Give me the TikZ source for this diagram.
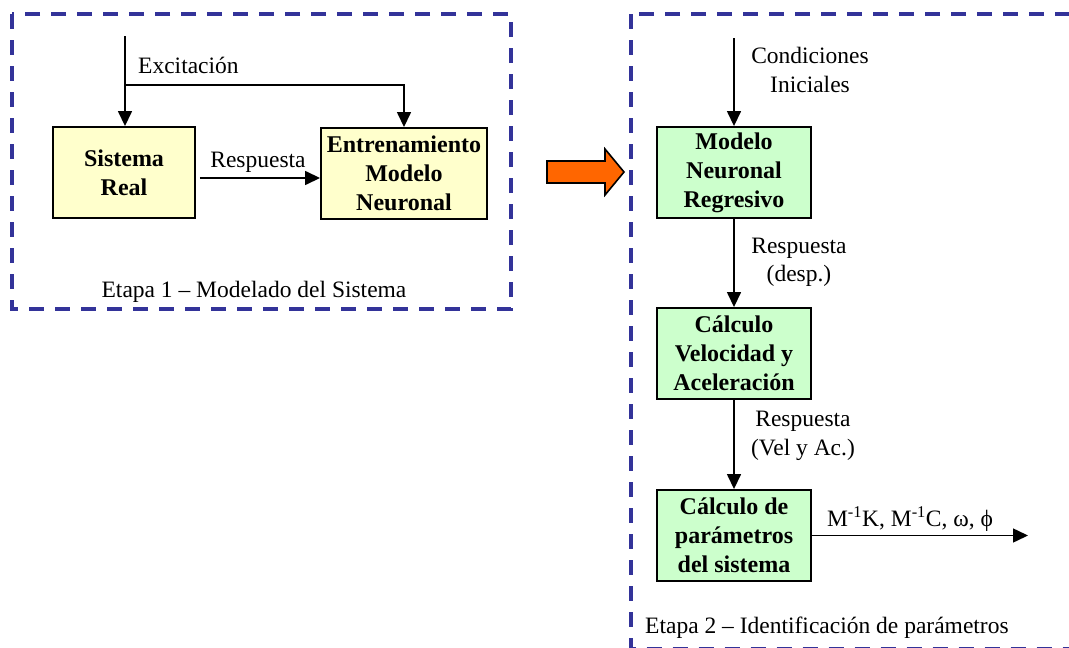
\documentclass[tikz,border=0pt]{standalone}
\usepackage{fontspec}
\setmainfont{Liberation Serif}
\usetikzlibrary{arrows.meta}
\definecolor{dashblue}{HTML}{333399}
\definecolor{yel}{HTML}{FFFFCC}
\definecolor{grn}{HTML}{CCFFCC}
\definecolor{orng}{HTML}{FF6600}
\begin{document}
\begin{tikzpicture}[x=1pt,y=-1pt,
  lbl/.style={font=\fontsize{23.5}{28.5}\selectfont,align=center,inner sep=0pt},
  blk/.style={draw=black,line width=1.9pt,font=\fontsize{24}{29}\selectfont\bfseries,align=center,inner sep=0pt,minimum height=91pt},
  yblk/.style={blk,fill=yel},
  gblk/.style={blk,fill=grn,minimum width=154pt},
  arr/.style={line width=1.5pt,-{Triangle[length=15pt,width=14pt]}},
  frame/.style={draw=dashblue,line width=3.4pt,dash pattern=on 15pt off 11pt},
  bigarrow/.style={draw=black,line width=1.6pt,fill=orng,line join=miter}]
\useasboundingbox (0,0) rectangle (1069,648);
\clip (0,0) rectangle (1069,648);
% frames
\draw[frame] (12,14) rectangle (511,309);
\draw[frame] (631,14) rectangle (1100,648.5);
% stage 1
\node[yblk,minimum width=142pt] (sis) at (124,172.5) {Sistema\\Real};
\node[yblk,minimum width=166pt] (ent) at (404,173.5) {Entrenamiento\\Modelo\\Neuronal};
\coordinate (in1) at (125,36);
\coordinate (br) at (125,85);
\draw[arr] (in1) -- (in1 |- sis.north);
\draw[arr] (br) -| (ent.north);
\node[lbl,anchor=west] (exc) at (138,65) {Excitación};
\coordinate (r1) at ([shift={(4,5.5)}]sis.east);
\draw[arr] (r1) -- (r1 -| ent.west);
\node[lbl] (resp1) at (258,162) {Respuesta};
\node[lbl] (et1) at (254,292) {Etapa 1 – Modelado del Sistema};
% big arrow
\draw[bigarrow] (547,161) -- (605,161) -- (605,149) -- (624,172) -- (605,195) -- (605,183) -- (547,183) -- cycle;
% stage 2
\node[gblk] (mnr) at (734,172.5) {Modelo\\Neuronal\\Regresivo};
\node[gblk] (cva) at (734,353.5) {Cálculo\\Velocidad y\\Aceleración};
\node[gblk] (par) at (734,535.5) {Cálculo de\\parámetros\\del sistema};
\coordinate (in2) at (734,38);
\coordinate (out) at (1028,535.5);
\draw[arr] (in2) -- (mnr);
\node[lbl] (cond) at (810,70) {Condiciones\\Iniciales};
\draw[arr] (mnr) -- (cva);
\node[lbl] (desp) at (799,262.5) {Respuesta\\(desp.)};
\draw[arr] (cva) -- (par);
\node[lbl] (vel) at (803,436) {Respuesta\\(Vel y Ac.)};
\draw[arr] (par) -- (out);
\node[lbl] (outl) at (910,519) {M\textsuperscript{-1}K, M\textsuperscript{-1}C, ω, ϕ};
\node[lbl,anchor=west] (et2) at (645,628) {Etapa 2 – Identificación de parámetros};
\end{tikzpicture}
\end{document}
